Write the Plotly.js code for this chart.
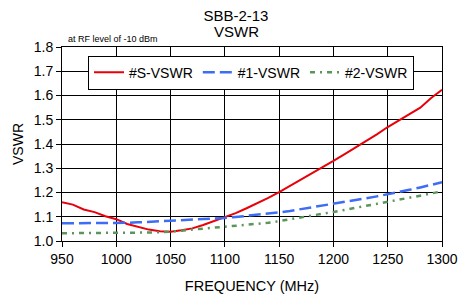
<!DOCTYPE html>
<html>
<head>
<meta charset="utf-8">
<script src="https://cdn.plot.ly/plotly-3.0.1.min.js"></script>
<style>html,body{margin:0;padding:0;background:#fff}#chart{width:459px;height:294px}</style>
</head>
<body>
<div id="chart"></div>
<script>
const freq = [950,960,970,980,990,1000,1010,1020,1030,1040,1050,1060,1070,1080,1090,1100,1110,1120,1130,1140,1150,1160,1170,1180,1190,1200,1210,1220,1230,1240,1250,1260,1270,1280,1290,1300];
const vswrS = [1.160,1.150,1.130,1.119,1.102,1.090,1.070,1.058,1.047,1.040,1.038,1.044,1.052,1.066,1.082,1.100,1.115,1.135,1.155,1.178,1.202,1.227,1.252,1.278,1.304,1.330,1.357,1.384,1.412,1.440,1.470,1.497,1.525,1.550,1.590,1.624];
const vswr1 = [1.073,1.073,1.073,1.073,1.073,1.073,1.075,1.077,1.079,1.081,1.083,1.085,1.087,1.089,1.092,1.095,1.099,1.103,1.107,1.112,1.118,1.124,1.131,1.138,1.145,1.153,1.160,1.168,1.176,1.184,1.192,1.201,1.211,1.221,1.231,1.242];
const vswr2 = [1.032,1.032,1.032,1.032,1.032,1.032,1.033,1.034,1.035,1.036,1.038,1.042,1.047,1.051,1.055,1.058,1.062,1.065,1.069,1.075,1.082,1.089,1.096,1.104,1.112,1.120,1.128,1.136,1.144,1.152,1.160,1.169,1.178,1.187,1.196,1.205];
const seriesNames = ['#S-VSWR','#1-VSWR','#2-VSWR'];
const xTicks = [950,1000,1050,1100,1150,1200,1250,1300];
const yTicks = [1.0,1.1,1.2,1.3,1.4,1.5,1.6,1.7,1.8];

const font = 'Arial, "Liberation Sans", sans-serif';
const traces = [
  {x: freq, y: vswrS, name: seriesNames[0], mode: 'lines', line: {color: '#e8000b', width: 2}},
  {x: freq, y: vswr1, name: seriesNames[1], mode: 'lines', line: {color: '#3d6cf5', width: 2.5, dash: '12px,5px'}},
  {x: freq, y: vswr2, name: seriesNames[2], mode: 'lines', line: {color: '#5a9659', width: 2.5, dash: '5px,5px,2px,5px'}}
];
const layout = {
  width: 459, height: 294,
  margin: {l: 62, r: 17, t: 47, b: 53},
  paper_bgcolor: '#fff', plot_bgcolor: '#fff',
  font: {family: font, color: '#000', size: 14},
  title: {text: 'SBB-2-13', font: {size: 15, family: font, color: '#000'}, x: 0.514, xref: 'container', xanchor: 'center', yref: 'container', y: 1 - 16/294, yanchor: 'middle'},
  xaxis: {
    range: [950, 1300], tickvals: xTicks, ticktext: xTicks.map(String),
    showgrid: true, gridcolor: '#000', gridwidth: 1,
    showline: true, linecolor: '#000', linewidth: 1, mirror: true,
    ticks: 'outside', ticklen: 5, tickcolor: '#000',
    tickfont: {size: 14, family: font, color: '#000'},
    title: {text: 'FREQUENCY (MHz)', font: {size: 14.5, family: font, color: '#000'}, standoff: 15},
    zeroline: false
  },
  yaxis: {
    range: [1.0, 1.8], tickvals: yTicks, ticktext: yTicks.map(v => v.toFixed(1)),
    showgrid: true, gridcolor: '#000', gridwidth: 1,
    showline: true, linecolor: '#000', linewidth: 1, mirror: true,
    ticks: 'outside', ticklen: 5, tickcolor: '#000',
    tickfont: {size: 14, family: font, color: '#000'},
    title: {text: 'VSWR', font: {size: 14, family: font, color: '#000'}, standoff: 6},
    zeroline: false
  },
  showlegend: true,
  legend: {
    orientation: 'h', x: (88 - 62) / 380, xanchor: 'left', y: 0.955, yanchor: 'top',
    bgcolor: '#fff', bordercolor: '#000', borderwidth: 1,
    font: {size: 14, family: font, color: '#000'},
    itemwidth: 30, tracegroupgap: 0
  },
  annotations: [
    {text: 'VSWR', xref: 'paper', yref: 'paper', x: (236 - 62) / 380, y: 1 + 16/194, xanchor: 'center', yanchor: 'middle', showarrow: false, font: {size: 15, family: font, color: '#000'}},
    {text: 'at RF level of -10 dBm', xref: 'paper', yref: 'paper', x: 0.01, y: 1.005, xanchor: 'left', yanchor: 'bottom', showarrow: false, font: {size: 9, family: font, color: '#000'}}
  ]
};
Plotly.newPlot('chart', traces, layout, {staticPlot: true, displayModeBar: false});
</script>
</body>
</html>
